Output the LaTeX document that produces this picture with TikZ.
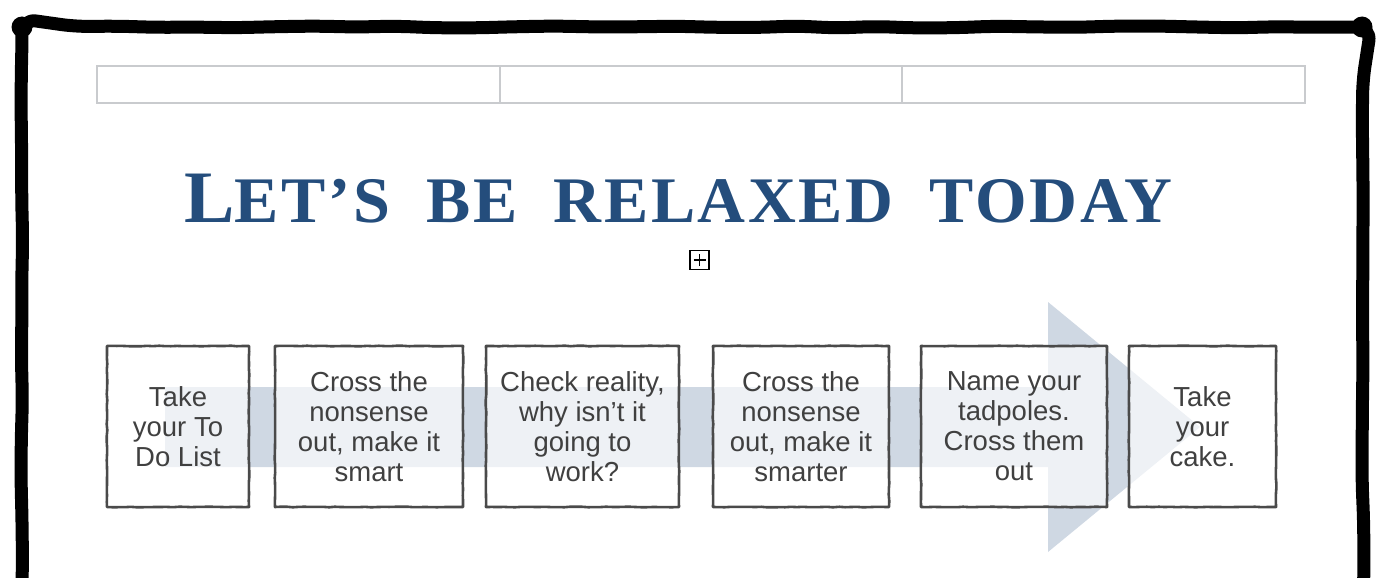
\documentclass[tikz,border=0pt]{standalone}
\usepackage{fontspec}
\setmainfont{Liberation Sans}
\newfontfamily\titlefont[FakeStretch=1.02,LetterSpace=4,WordSpace=1.9]{Liberation Serif}
\usetikzlibrary{decorations.pathmorphing}
\definecolor{titleblue}{HTML}{244D7C}
\definecolor{arrowblue}{HTML}{CFD8E3}
\definecolor{inkgray}{HTML}{4A4A4A}
\definecolor{textgray}{HTML}{404040}
\definecolor{rulegray}{HTML}{C9CBCE}
\tikzset{
  card/.style={draw=inkgray, line width=2.6pt, fill=white, fill opacity=0.65, text opacity=1,
    line cap=round, line join=round, minimum height=161pt, inner sep=0pt, align=center,
    text=textgray, font=\fontsize{27.5}{30}\selectfont,
    decorate, decoration={random steps, segment length=6pt, amplitude=0.3pt}},
  cell/.style={draw=rulegray, line width=1.5pt, minimum height=37pt, minimum width=403pt, inner sep=0pt},
  frameline/.style={line width=13pt, line join=round, line cap=round,
    decorate, decoration={random steps, segment length=40pt, amplitude=1pt}, rounded corners=14pt}
}
\pgfmathsetseed{7}
\begin{document}
\begin{tikzpicture}[x=1pt, y=-1pt]
  \useasboundingbox (0,0) rectangle (1400,578);
  \clip (0,0) rectangle (1400,578);
  \draw[frameline] (22,640) -- (22,27) -- (1363,27) -- (1363,640);
  \fill (22,27) circle (10.5pt);
  \fill (1362,27) circle (10.5pt);

  \node[cell] (cellA) at (298.5,84.5) {};
  \node[cell] (cellB) at (701,84.5) {};
  \node[cell] (cellC) at (1103.5,84.5) {};

  \node[font=\titlefont\bfseries\fontsize{65}{65}\selectfont, text=titleblue, anchor=base, inner sep=0pt]
    (title) at (678.5,222) {{\fontsize{74}{74}\selectfont L}ET’S BE RELAXED TODAY};

  \node[draw, line width=1.5pt, minimum size=19pt, inner sep=0pt] (handle) at (699.5,260) {};
  \draw[line width=1.5pt] ([xshift=-6pt]handle.center) -- ([xshift=6pt]handle.center);
  \draw[line width=1.5pt] ([yshift=-6pt]handle.center) -- ([yshift=6pt]handle.center);

  \fill[arrowblue] (165,387) -- (1048,387) -- (1048,302) -- (1200,427) -- (1048,552)
    -- (1048,467) -- (165,467) -- cycle;

  \node[card, minimum width=142pt] (todo) at (178,426.5) {Take\\your To\\Do List};
  \node[card, minimum width=188pt] (smart) at (369,426.5) {Cross the\\nonsense\\out, make it\\smart};
  \node[card, minimum width=193pt] (reality) at (582.5,426.5) {Check reality,\\why isn’t it\\going to\\work?};
  \node[card, minimum width=176pt] (smarter) at (801,426.5) {Cross the\\nonsense\\out, make it\\smarter};
  \node[card, minimum width=186pt] (tadpoles) at (1014,426.5) {Name your\\tadpoles.\\Cross them\\out};
  \node[card, minimum width=147pt] (cake) at (1202.5,426.5) {Take\\your\\cake.};
\end{tikzpicture}
\end{document}
